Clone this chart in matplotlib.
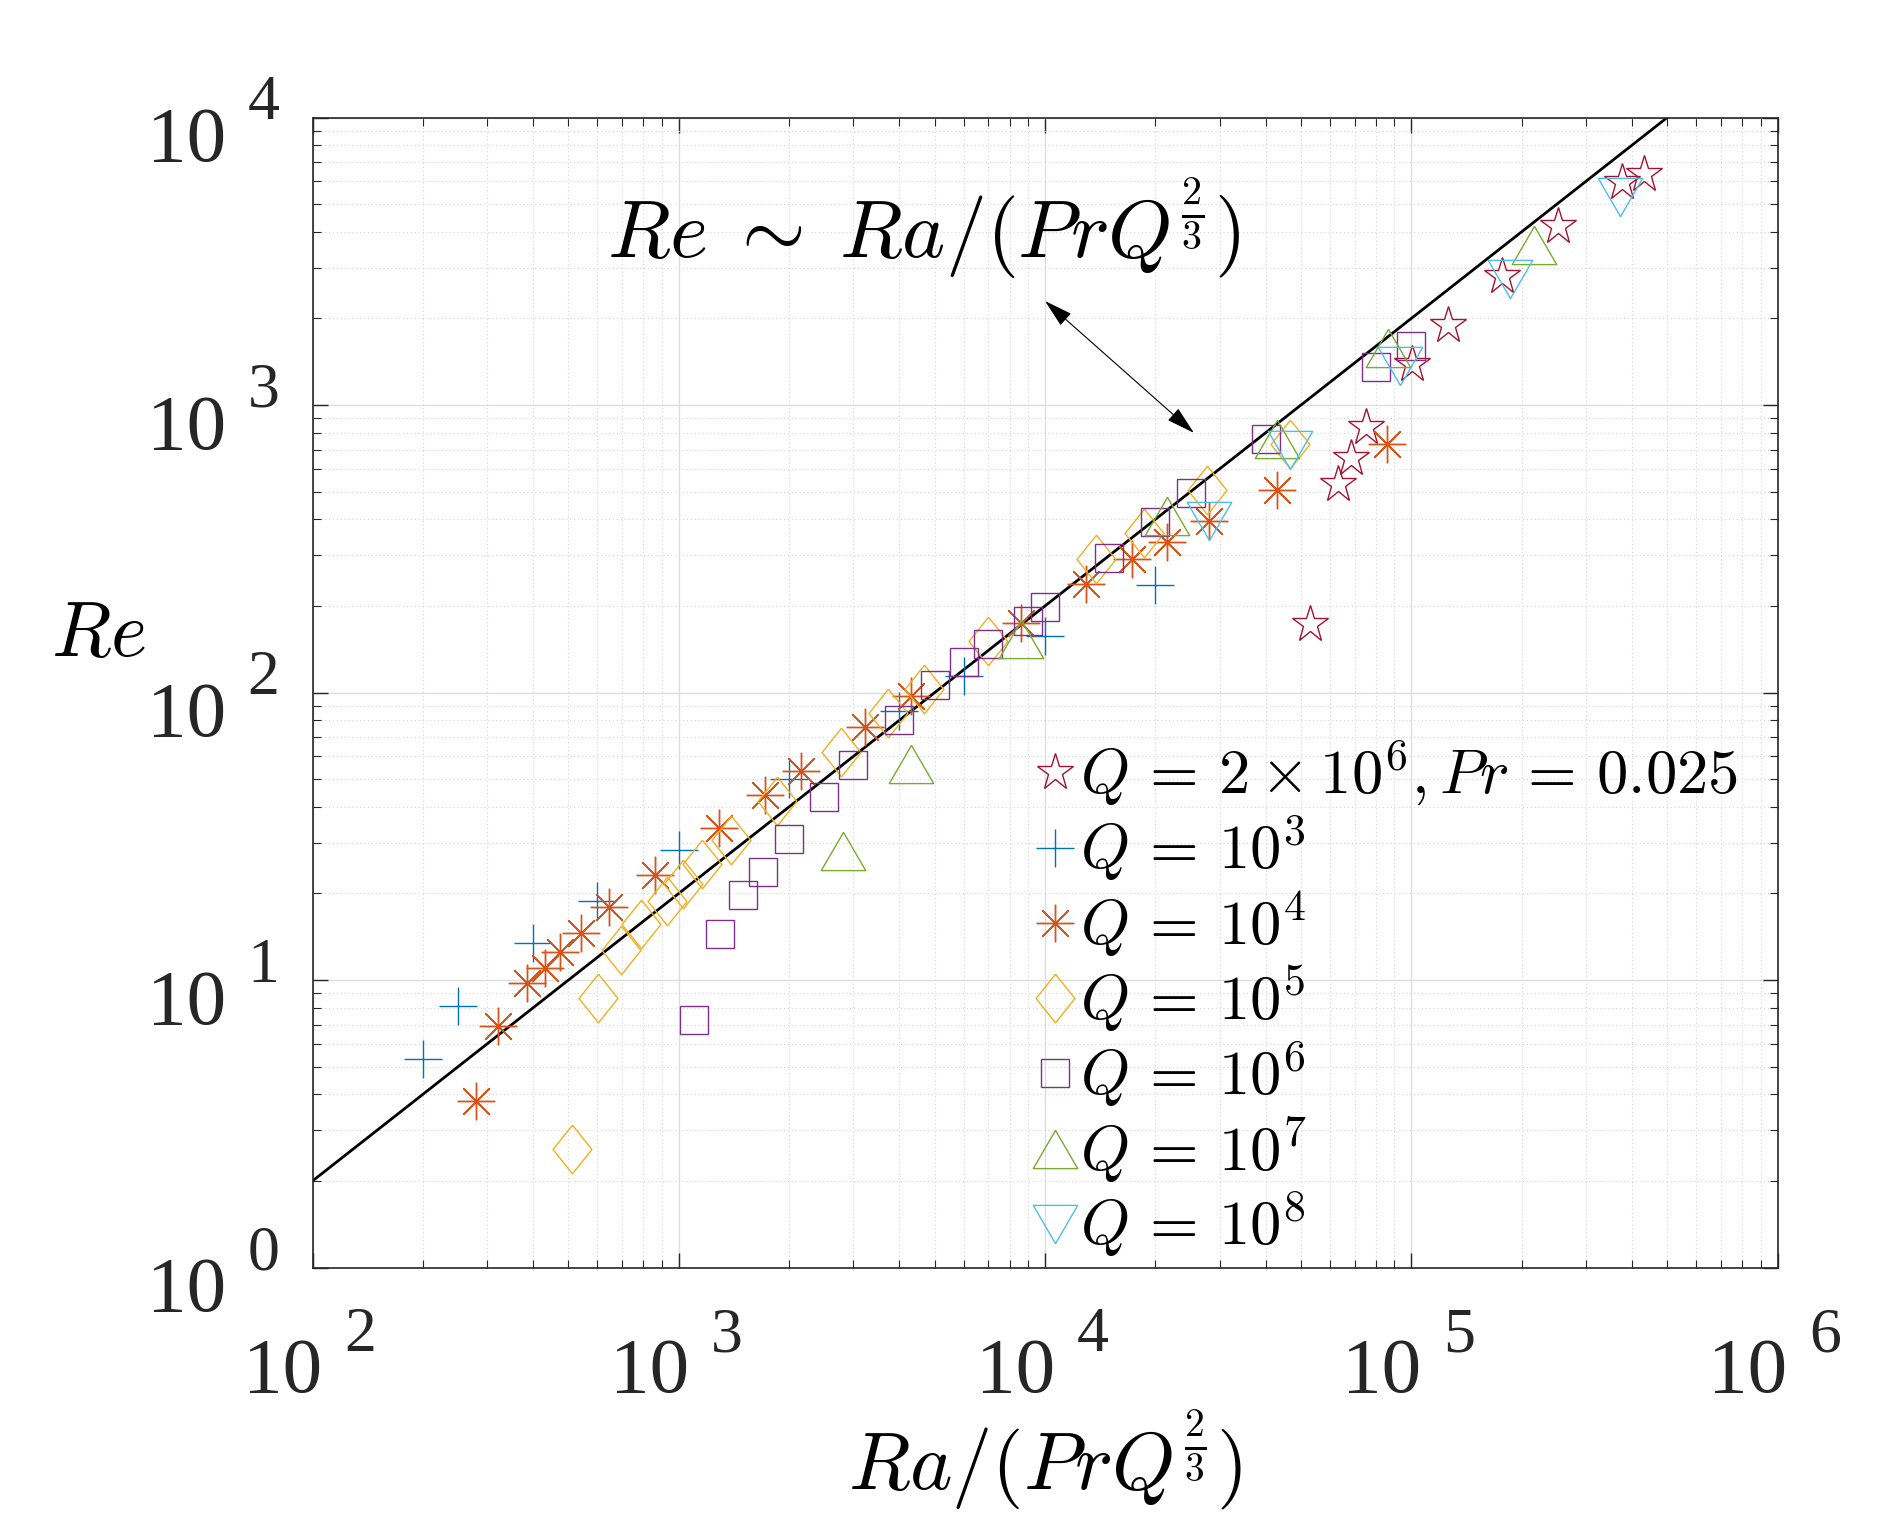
import numpy as np
import matplotlib.pyplot as plt
from matplotlib.ticker import LogLocator, NullFormatter
from matplotlib.transforms import blended_transform_factory, offset_copy

plt.rcParams['mathtext.fontset'] = 'cm'
plt.rcParams['font.family'] = ['Liberation Serif', 'DejaVu Serif']

# Q = 2e6, Pr = 0.025
star_x = [52900, 63100, 68500, 75350, 100500, 125600, 176600, 251700, 376500, 431000]
star_y = [173, 533, 655, 837, 1389, 1898, 2810, 4185, 5954, 6368]
# Q = 1e3
q3_x = [200, 250, 400, 600, 1000, 2000, 4000, 6000, 10000, 20000]
q3_y = [5.3, 8.1, 13.5, 18.8, 28.3, 49.9, 86, 114, 157, 237]
# Q = 1e4
q4_x = [280, 320, 385, 430, 475, 540, 645, 860, 1290, 1720, 2150, 3230, 4300,
        8600, 12900, 17300, 21500, 28000, 43000, 86000]
q4_y = [3.8, 6.9, 9.8, 11.0, 12.5, 14.6, 17.9, 23.1, 33.9, 44.0, 53.4, 75.9, 97.4,
        175, 238, 291, 334, 395, 508, 734]
# Q = 1e5
q5_x = [511, 603, 697, 787, 929, 1024, 1156, 1387, 1853, 2780, 3733, 4664, 6970,
        13800, 18650, 27750, 46750]
q5_y = [2.58, 8.63, 12.7, 15.6, 18.8, 21.6, 25.3, 30.8, 41.8, 61.9, 85.1, 102.8, 151,
        291, 360, 505, 729]
# Q = 1e6
q6_x = [1100, 1300, 1500, 1700, 2000, 2500, 3000, 4000, 5000, 6000, 7000, 9000,
        10000, 15000, 20000, 25000, 40000, 80000, 100000]
q6_y = [7.24, 14.4, 19.7, 23.7, 30.9, 43.4, 56.0, 80.3, 106.5, 128, 147, 177,
        198, 294, 393, 494, 762, 1355, 1603]
# Q = 1e7
q7_x = [2806, 4305, 8620, 21500, 43100, 86300, 216000]
q7_y = [28.1, 56.4, 154, 410, 764, 1579, 3612]
# Q = 1e8
q8_x = [28000, 46600, 93000, 186000, 372000]
q8_y = [394, 697, 1367, 2733, 5300]

# scaling line Re = c * Ra/(Pr Q^(2/3))
fit_x = np.array([1e2, 1e6])
fit_c = 0.02

x_decades = [2, 3, 4, 5, 6]
y_decades = [0, 1, 2, 3, 4]

diamond = [(0, 1), (0.8, 0), (0, -1), (-0.8, 0), (0, 1)]
tri_up = [(0, 0.86), (1, -0.86), (-1, -0.86), (0, 0.86)]
tri_dn = [(0, -0.86), (1, 0.86), (-1, 0.86), (0, -0.86)]

series = [
    (star_x, star_y, '*', 28, '#A2142F', r'$Q\,=\,2\times10^{6},Pr\,=\,0.025$'),
    (q3_x, q3_y, '+', 27, '#0072BD', r'$Q\,=\,10^{3}$'),
    (q4_x, q4_y, (8, 2, 0), 27, '#D95319', r'$Q\,=\,10^{4}$'),
    (q5_x, q5_y, diamond, 35, '#EDB120', r'$Q\,=\,10^{5}$'),
    (q6_x, q6_y, 's', 20, '#7E2F8E', r'$Q\,=\,10^{6}$'),
    (q7_x, q7_y, tri_up, 32, '#77AC30', r'$Q\,=\,10^{7}$'),
    (q8_x, q8_y, tri_dn, 32, '#4DBEEE', r'$Q\,=\,10^{8}$'),
]

fig = plt.figure(figsize=(18.92, 15.21), dpi=100)
ax = fig.add_axes([312.5 / 1892, 1 - 1267.5 / 1521, 1465 / 1892, 1150 / 1521])

for x, y, m, ms, c, lab in series:
    ax.plot(x, y, ls='none', marker=m, ms=ms, mfc='none', mec=c, mew=1.0, label=lab)

ax.plot(fit_x, fit_c * fit_x, color='k', lw=2.0, zorder=1)

ax.set_xscale('log')
ax.set_yscale('log')
ax.set_xlim(1e2, 1e6)
ax.set_ylim(1e0, 1e4)

ax.xaxis.set_major_locator(LogLocator(base=10, numticks=10))
ax.yaxis.set_major_locator(LogLocator(base=10, numticks=10))
ax.xaxis.set_minor_locator(LogLocator(base=10, subs=np.arange(2, 10), numticks=50))
ax.yaxis.set_minor_locator(LogLocator(base=10, subs=np.arange(2, 10), numticks=50))
ax.xaxis.set_minor_formatter(NullFormatter())
ax.yaxis.set_minor_formatter(NullFormatter())

ax.grid(True, which='major', color='#dedede', lw=1.0, ls='-')
ax.grid(True, which='minor', color='#d4d4d4', lw=0.8, ls=(0, (1, 2.5)))
ax.set_axisbelow(True)

ax.tick_params(which='both', direction='in', top=True, right=True,
               color='#262626', labelbottom=False, labelleft=False)
ax.tick_params(which='major', length=11, width=1.0)
ax.tick_params(which='minor', length=6, width=0.8)
for s in ax.spines.values():
    s.set_color('#262626')
    s.set_linewidth(1.2)

# MATLAB-style tick labels: "10" with a big raised exponent
tk = dict(color='#262626', family='Liberation Serif', va='baseline', ha='center',
          clip_on=False)
bx = blended_transform_factory(ax.transData, ax.transAxes)
by = blended_transform_factory(ax.transAxes, ax.transData)
for d in x_decades:
    ax.text(10.0 ** d, 0, '10', fontsize=57,
            transform=offset_copy(bx, fig=fig, x=-29.5, y=-124.5, units='dots'), **tk)
    ax.text(10.0 ** d, 0, str(d), fontsize=46,
            transform=offset_copy(bx, fig=fig, x=48, y=-83.5, units='dots'), **tk)
for d in y_decades:
    ax.text(0, 10.0 ** d, '10', fontsize=57,
            transform=offset_copy(by, fig=fig, x=-126, y=-43.5, units='dots'), **tk)
    ax.text(0, 10.0 ** d, str(d), fontsize=46,
            transform=offset_copy(by, fig=fig, x=-49, y=-1.5, units='dots'), **tk)

ax.set_xlabel(r'$Ra/(PrQ^{\frac{2}{3}})$', fontsize=58, va='center')
ax.xaxis.set_label_coords(0.5, -0.168)
ax.set_ylabel(r'$Re$', fontsize=56, rotation=0, ha='center', va='center')
ax.yaxis.set_label_coords(-0.146, 0.548)

ax.text(0.417, 0.903, r'$Re\;\sim\;Ra/(PrQ^{\frac{2}{3}})$', transform=ax.transAxes,
        fontsize=59, ha='center', va='center')
ax.annotate('', xy=(2.55e4, 8.0e2), xytext=(1.0e4, 2.3e3),
            arrowprops=dict(arrowstyle='<|-|>,head_length=0.9,head_width=0.25',
                            color='k', lw=0.8, shrinkA=0, shrinkB=0, mutation_scale=20))

ax.legend(loc='upper left', bbox_to_anchor=(0.49, 0.46), frameon=False,
          fontsize=45, handlelength=0.8, handletextpad=0.0, labelspacing=0.08,
          borderpad=0, borderaxespad=0)

fig.savefig('out.png', dpi=100)
